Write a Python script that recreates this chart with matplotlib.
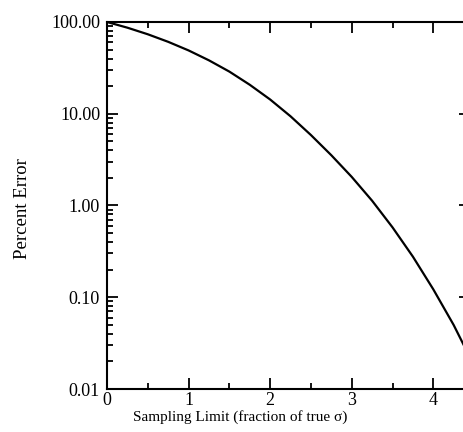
import matplotlib
matplotlib.use("Agg")
import matplotlib.pyplot as plt
from matplotlib.ticker import FixedLocator, LogLocator, NullFormatter, FixedFormatter

# Data (x in fraction of true sigma, y = percent error)
sampling_limit = [0.0, 0.25, 0.5, 0.75, 1.0, 1.25, 1.5, 1.75, 2.0, 2.25,
                  2.5, 2.75, 3.0, 3.25, 3.5, 3.75, 4.0, 4.25, 4.4]
percent_error = [100.0, 86.7, 73.5, 60.8, 49.0, 38.2, 28.8, 20.7, 14.3, 9.38,
                 5.86, 3.53, 2.05, 1.127, 0.578, 0.277, 0.122, 0.0498, 0.027]

y_ticks = [0.01, 0.1, 1.0, 10.0, 100.0]
y_tick_labels = ["0.01", "0.10", "1.00", "10.00", "100.00"]
x_ticks = [0, 1, 2, 3, 4]
x_tick_labels = ["0", "1", "2", "3", "4"]

plt.rcParams['font.family'] = ['Liberation Serif', 'DejaVu Serif']

fig = plt.figure(figsize=(4.64, 4.32), dpi=100)
W, H = 464, 432
left_px, right_px, top_px, bottom_px = 107, 470, 22, 389
ax = fig.add_axes([left_px / W, (H - bottom_px) / H,
                   (right_px - left_px) / W, (bottom_px - top_px) / H])

ax.plot(sampling_limit, percent_error, color='black', lw=1.6,
        solid_joinstyle='round')

ax.set_yscale('log')
ax.set_xlim(0, 4.45)
ax.set_ylim(0.01, 100)

ax.xaxis.set_major_locator(FixedLocator(x_ticks))
ax.xaxis.set_major_formatter(FixedFormatter(x_tick_labels))
ax.xaxis.set_minor_locator(FixedLocator([0.5, 1.5, 2.5, 3.5]))
ax.yaxis.set_major_locator(FixedLocator(y_ticks))
ax.yaxis.set_major_formatter(FixedFormatter(y_tick_labels))
ax.yaxis.set_minor_locator(LogLocator(base=10, subs=range(2, 10)))
ax.yaxis.set_minor_formatter(NullFormatter())

for s in ax.spines.values():
    s.set_linewidth(1.5)

ax.tick_params(which='both', direction='in', top=True, right=True, width=1.3)
ax.tick_params(which='major', length=8, labelsize=13)
ax.tick_params(axis='y', which='major', pad=5)
ax.tick_params(axis='x', which='major', pad=2)
ax.tick_params(which='minor', length=4.5)

ax.set_xlabel("Sampling Limit (fraction of true σ)", fontsize=11)
ax.set_ylabel("Percent Error", fontsize=13.5)
ax.xaxis.set_label_coords(0.366, -0.057)
ax.yaxis.set_label_coords(-0.209, 0.493)

fig.savefig("out.png", dpi=100)
